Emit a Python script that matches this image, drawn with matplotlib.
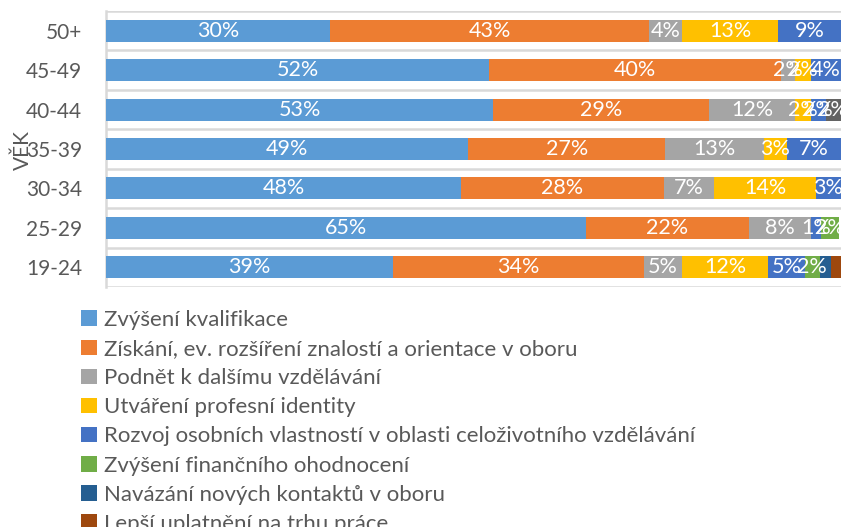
import matplotlib
matplotlib.use("Agg")
import matplotlib.pyplot as plt
import numpy as np

plt.rcParams['font.family'] = ['Lato', 'DejaVu Sans']

categories = ["19-24", "25-29", "30-34", "35-39", "40-44", "45-49", "50+"]

series_names = [
    "Zvýšení kvalifikace",
    "Získání, ev. rozšíření znalostí a orientace v oboru",
    "Podnět k dalšímu vzdělávání",
    "Utváření profesní identity",
    "Rozvoj osobních vlastností v oblasti celoživotního vzdělávání",
    "Zvýšení finančního ohodnocení",
    "Navázání nových kontaktů v oboru",
    "Lepší uplatnění na trhu práce",
    None,
]

# values in % per category (19-24 ... 50+)
zvyseni_kvalifikace = [39.0, 65.3, 48.3, 49.3, 52.7, 52.1, 30.5]
ziskani_znalosti = [34.2, 22.2, 27.6, 26.8, 29.4, 39.7, 43.4]
podnet_vzdelavani = [5.2, 8.4, 6.8, 13.4, 11.6, 1.9, 4.5]
profesni_identita = [11.6, 0.0, 13.9, 3.1, 2.2, 2.2, 13.0]
rozvoj_vlastnosti = [5.1, 1.4, 3.4, 7.4, 2.0, 4.1, 8.6]
financni_ohodnoceni = [2.0, 2.4, 0.0, 0.0, 0.0, 0.0, 0.0]
nove_kontakty = [1.6, 0.0, 0.0, 0.0, 0.0, 0.0, 0.0]
uplatneni = [1.4, 0.0, 0.0, 0.0, 0.0, 0.0, 0.0]
ostatni = [0.0, 0.0, 0.0, 0.0, 2.1, 0.0, 0.0]

series = [zvyseni_kvalifikace, ziskani_znalosti, podnet_vzdelavani, profesni_identita,
          rozvoj_vlastnosti, financni_ohodnoceni, nove_kontakty, uplatneni, ostatni]
show_labels = [True, True, True, True, True, True, False, False, True]

colors = ["#5B9BD5", "#ED7D31", "#A5A5A5", "#FFC000", "#4472C4",
          "#70AD47", "#255E91", "#9E480E", "#636363"]

fig = plt.figure(figsize=(8.44, 5.27), dpi=100)
ax = fig.add_axes([106/844, 1 - 287/527, (841-106)/844, (287-11)/527])

y = np.arange(len(categories))
left = np.zeros(len(categories))
for name, vals, col, lab in zip(series_names, series, colors, show_labels):
    vals = np.array(vals)
    ax.barh(y, vals, left=left, height=0.56, color=col,
            label=name if name else "_nolegend_", zorder=3)
    if lab:
        for yi, (l, v) in enumerate(zip(left, vals)):
            if v > 0:
                ax.text(l + v/2, yi, f"{v:.0f}%", ha='center', va='center',
                        color='white', fontsize=15.5, zorder=4)
    left = left + vals

ax.set_xlim(0, 100)
ax.set_ylim(-0.5, len(categories) - 0.5)
ax.set_yticks(y)
ax.set_yticklabels(categories, color="#595959", fontsize=15)
ax.tick_params(axis='y', length=0, pad=17)
ax.set_xticks([])
for yb in np.arange(-0.5, len(categories), 1.0):
    ax.axhline(yb, color="#D9D9D9", lw=1.8, zorder=1)
for s in ['top', 'right', 'bottom']:
    ax.spines[s].set_visible(False)
ax.spines['left'].set_color("#D9D9D9")
ax.spines['left'].set_linewidth(1.8)

fig.text(23/844, 1 - 150/527, "VĚK", rotation=90, ha='center', va='center',
         color="#595959", fontsize=15)

handles, labels = ax.get_legend_handles_labels()
leg = fig.legend(handles, labels, loc='upper left', bbox_to_anchor=(81/844, 1 - 310/527),
                 frameon=False, fontsize=16, handlelength=0.7, handleheight=0.7,
                 handletextpad=0.35, labelspacing=0.41, borderpad=0, borderaxespad=0)
for t in leg.get_texts():
    t.set_color("#595959")

fig.savefig("out.png", dpi=100)
